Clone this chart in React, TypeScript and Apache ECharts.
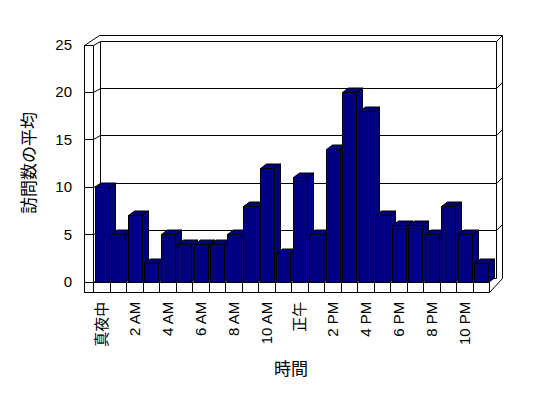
import React, { useEffect, useRef } from 'react';
import * as echarts from 'echarts';

const categories = [
  '真夜中', '1 AM', '2 AM', '3 AM', '4 AM', '5 AM', '6 AM', '7 AM', '8 AM', '9 AM', '10 AM', '11 AM',
  '正午', '1 PM', '2 PM', '3 PM', '4 PM', '5 PM', '6 PM', '7 PM', '8 PM', '9 PM', '10 PM', '11 PM',
];
const visits = [10, 5, 7, 2, 5, 4, 4, 4, 5, 8, 12, 3, 11, 5, 14, 20, 18, 7, 6, 6, 5, 8, 5, 2];
const yTicks = [0, 5, 10, 15, 20, 25];

const FONT = "'Liberation Sans', 'Noto Sans CJK JP', sans-serif";
const DX = 7;
const DY = -4.7;
const BDX = 6;
const BDY = -4.5;
const WALL = 9;
const FLOOR = 10;
const SLAB = 6;

const p = (v: number) => Math.round(v) + 0.5;
const line = (x1: number, y1: number, x2: number, y2: number) => ({
  type: 'line',
  shape: { x1, y1, x2, y2 },
  style: { stroke: '#000', lineWidth: 1, fill: 'none' },
});

export default function App() {
  const ref = useRef<HTMLDivElement>(null);
  useEffect(() => {
    const chart = echarts.init(ref.current!, undefined, { renderer: 'svg' });

    const decor = (params: any, api: any) => {
      const cs = params.coordSys;
      const FL = p(cs.x);
      const FR = p(cs.x + cs.width);
      const FT = p(cs.y);
      const FB = p(cs.y + cs.height);
      const t = api.value(1);
      const yf = p(api.coord([0, t])[1]);
      const children: any[] = [];
      children.push(line(FL - WALL, yf, FL, yf));
      children.push(line(FL, yf, FL + DX, Math.round(yf + DY) + 0.5));
      const yb = Math.round(yf + DY) + 0.5;
      children.push(line(FL + DX, yb, FR + DX, yb));
      if (t > 0) children.push(line(FR + DX, yb, FR + DX + SLAB, yb - SLAB));
      if (params.dataIndex === 0) {
        const topB = Math.round(FT + DY) + 0.5;
        const botB = Math.round(FB + DY) + 0.5;
        children.push({
          type: 'rect',
          shape: { x: FL - WALL, y: FT, width: WALL, height: FB + FLOOR - FT },
          style: { fill: 'none', stroke: '#000', lineWidth: 1 },
        });
        children.push(line(FL - WALL, FT, FL + DX - 1, topB - SLAB));
        children.push(line(FL + DX - 1, topB - SLAB, FR + DX + SLAB, topB - SLAB));
        children.push(line(FL + DX, topB, FL + DX, botB));
        children.push(line(FR + DX, topB, FR + DX, botB));
        children.push(line(FR + DX + SLAB, topB - SLAB, FR + DX + SLAB, botB));
        children.push(line(FR + DX + SLAB, botB, FR, FB + FLOOR));
        children.push({
          type: 'rect',
          shape: { x: FL - WALL, y: FB, width: FR - (FL - WALL), height: FLOOR },
          style: { fill: 'none', stroke: '#000', lineWidth: 1 },
        });
        const n = categories.length;
        for (let i = 1; i < n; i++) {
          const x = p(cs.x + (i * cs.width) / n);
          children.push(line(x, FB, x, FB + FLOOR));
        }
      }
      return { type: 'group', children };
    };

    const bars = (params: any, api: any) => {
      const x = api.value(0);
      const v = api.value(1);
      const b = api.coord([x, 0]);
      const t = api.coord([x, v]);
      const slot = api.size([1, 0])[0];
      const w = Math.round(slot * 0.83);
      const x0 = Math.round(b[0] - w / 2 + 0.5) + 0.5;
      const x1 = x0 + w;
      const yt = p(t[1]);
      const yb = p(b[1]);
      const st = { fill: '#000080', stroke: '#000', lineWidth: 1 };
      return {
        type: 'group',
        children: [
          {
            type: 'polygon',
            shape: { points: [[x1, yt], [x1 + BDX, yt + BDY], [x1 + BDX, yb + BDY], [x1, yb]] },
            style: st,
          },
          {
            type: 'polygon',
            shape: { points: [[x0, yt], [x0 + BDX, yt + BDY], [x1 + BDX, yt + BDY], [x1, yt]] },
            style: st,
          },
          {
            type: 'rect',
            shape: { x: x0, y: yt, width: w, height: yb - yt },
            style: st,
          },
        ],
      };
    };

    chart.setOption({
      animation: false,
      backgroundColor: '#fff',
      grid: { left: 93, right: 59, top: 44.5, bottom: 116.3, containLabel: false },
      xAxis: {
        type: 'category',
        data: categories,
        boundaryGap: true,
        axisLine: { show: false },
        axisTick: { show: false },
        axisLabel: {
          interval: 1,
          rotate: 90,
          margin: 20,
          color: '#000',
          fontSize: 15,
          fontFamily: FONT,
        },
        name: '時間',
        nameLocation: 'middle',
        nameGap: 79,
        nameTextStyle: { color: '#000', fontSize: 17, fontFamily: FONT },
      },
      yAxis: {
        type: 'value',
        min: 0,
        max: 25,
        interval: 5,
        axisLine: { show: false },
        axisTick: { show: false },
        splitLine: { show: false },
        axisLabel: { margin: 21, color: '#000', fontSize: 15, fontFamily: FONT },
        name: '訪問数の平均',
        nameLocation: 'middle',
        nameGap: 55,
        nameTextStyle: { color: '#000', fontSize: 17, fontFamily: FONT },
      },
      series: [
        {
          type: 'custom',
          name: 'decor',
          silent: true,
          clip: false,
          z: 1,
          renderItem: decor,
          data: yTicks.map((t) => [0, t]),
        },
        {
          type: 'custom',
          name: '訪問数',
          silent: true,
          clip: false,
          z: 2,
          renderItem: bars,
          data: visits.map((v, i) => [i, v]),
        },
      ],
    });
    return () => chart.dispose();
  }, []);
  return (
    <div
      ref={ref}
      style={{ position: 'fixed', left: 0, top: 0, width: 548, height: 398, background: '#fff' }}
    />
  );
}
